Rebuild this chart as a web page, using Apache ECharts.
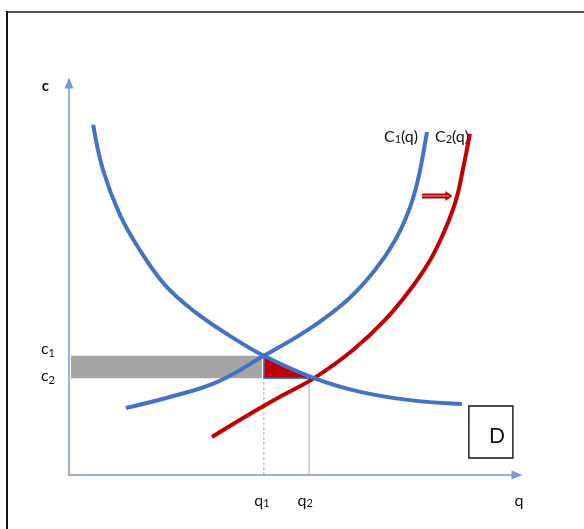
<!DOCTYPE html>
<html>
<head>
<meta charset="utf-8">
<script src="https://cdn.jsdelivr.net/npm/echarts@6/dist/echarts.min.js"></script>
<style>
  html, body { margin: 0; padding: 0; background: #fff; }
  #chart { width: 584px; height: 529px; }
</style>
</head>
<body>
<div id="chart"></div>
<script>
// Demand curve D and cost curves before (C1) and after (C2) the shift, in [q, c]
const demandCurve = [[5.4, 89.3], [7.6, 77.8], [11.4, 66.3], [15.8, 57.4], [21.4, 48.5], [28.1, 41.6],
  [35.9, 35.5], [43.5, 30.4], [54.7, 24.7], [65.0, 21.2], [76.1, 19.1], [87.7, 18.1]];
const costCurve1 = [[12.7, 17.1], [22.5, 19.9], [33.0, 23.7], [43.5, 30.4], [53.3, 37.0], [62.1, 44.6],
  [68.3, 52.3], [72.8, 59.9], [75.9, 67.6], [77.9, 75.3], [79.0, 81.6], [79.9, 87.5]];
const costCurve2 = [[31.9, 9.7], [40.0, 15.3], [47.5, 20.2], [54.7, 24.7], [63.4, 31.9], [70.5, 39.5],
  [76.1, 47.2], [80.6, 54.8], [83.9, 62.5], [86.4, 70.2], [87.9, 77.8], [89.5, 87.0]];

// Equilibrium quantities and costs
const qValues = [43.5, 53.6];          // q1, q2
const qNames = ['1', '2'];
const cValues = [30.4, 24.7];          // c1, c2
const cNames = ['1', '2'];
const qCross = 54.7;                   // D meets C2 here
const qAxisEnd = 100;

// Shift arrow from C1 toward C2
const shiftArrow = [[78.8, 71.2], [84.8, 71.2]];

const FONT = 'Lato, "Noto Sans", "DejaVu Sans", sans-serif';
const BLUE = '#4472c4';
const RED = '#c00000';
const AXIS = '#7b96d9';
const INK = '#111';

const chart = echarts.init(document.getElementById('chart'), null, { renderer: 'canvas' });

function curve(data, color, extra) {
  return Object.assign({
    type: 'line',
    data: data,
    smooth: 0.4,
    symbol: 'none',
    silent: true,
    lineStyle: { color: color, width: 4, cap: 'butt' },
    z: 5
  }, extra || {});
}

const option = {
  animation: false,
  backgroundColor: '#fff',
  textStyle: { fontFamily: FONT },
  grid: { left: 69, right: 67, top: 83, bottom: 54, containLabel: false, outerBoundsMode: 'none' },
  xAxis: {
    type: 'value', min: 0, max: qAxisEnd,
    axisLine: { show: true, symbol: ['none', 'triangle'], symbolSize: [9, 11], lineStyle: { color: AXIS, width: 1.5 } },
    axisTick: { show: false },
    splitLine: { show: false },
    axisLabel: {
      customValues: qValues.concat([qAxisEnd]),
      margin: 18,
      verticalAlign: 'top',
      showMinLabel: true,
      showMaxLabel: true,
      hideOverlap: false,
      formatter: function (v) {
        const i = qValues.indexOf(v);
        if (i < 0) return '{n|q}';
        return '{m' + i + '|q}{s' + i + '|' + qNames[i] + '}';
      },
      rich: {
        n: { fontFamily: FONT, fontSize: 16, color: INK, padding: [0, 0, 0, 4] },
        m0: { fontFamily: FONT, fontSize: 16, color: INK },
        s0: { fontFamily: FONT, fontSize: 11, color: INK, verticalAlign: 'bottom', padding: [0, 4, 0, 0] },
        m1: { fontFamily: FONT, fontSize: 16, color: INK },
        s1: { fontFamily: FONT, fontSize: 11, color: INK, verticalAlign: 'bottom', padding: [0, 8, 0, 0] }
      }
    }
  },
  yAxis: {
    type: 'value', min: 0, max: 100,
    name: 'c', nameLocation: 'end', nameGap: -3,
    nameTextStyle: { fontFamily: FONT, fontSize: 15, fontWeight: 'bold', color: INK, align: 'right', verticalAlign: 'middle', padding: [0, 20, 0, 0] },
    axisLine: { show: true, symbol: ['none', 'triangle'], symbolSize: [9, 11], lineStyle: { color: AXIS, width: 1.5 } },
    axisTick: { show: false },
    splitLine: { show: false },
    axisLabel: {
      customValues: cValues,
      margin: 14,
      formatter: function (v) {
        const i = cValues.indexOf(v);
        return '{m' + i + '|c}{s' + i + '|' + cNames[i] + '}';
      },
      rich: {
        m0: { fontFamily: FONT, fontSize: 16, color: INK, padding: [0, 0, 14, 0] },
        s0: { fontFamily: FONT, fontSize: 11, color: INK, verticalAlign: 'bottom', padding: [0, 0, 12, 0] },
        m1: { fontFamily: FONT, fontSize: 16, color: INK, padding: [0, 0, 4, 0] },
        s1: { fontFamily: FONT, fontSize: 11, color: INK, verticalAlign: 'bottom', padding: [0, 0, 2, 0] }
      }
    }
  },
  graphic: [
    { type: 'line', silent: true, shape: { x1: 6, y1: 12, x2: 584, y2: 12 }, style: { stroke: '#555', lineWidth: 2 } },
    { type: 'line', silent: true, shape: { x1: 7, y1: 11, x2: 7, y2: 529 }, style: { stroke: INK, lineWidth: 2 } }
  ],
  series: [
    // cost saving band between c2 and c1 up to q1
    {
      type: 'custom', silent: true, z: 1,
      data: [[0, cValues[1], qValues[0], cValues[0]]],
      renderItem: function (params, api) {
        const a = api.coord([api.value(0), api.value(3)]);
        const b = api.coord([api.value(2), api.value(1)]);
        return {
          type: 'rect',
          shape: { x: a[0] + 2, y: a[1], width: b[0] - a[0] - 4, height: b[1] - a[1] },
          style: { fill: '#a5a5a5' }
        };
      }
    },
    // welfare triangle between q1 and the new equilibrium
    {
      type: 'custom', silent: true, z: 2,
      data: [[qValues[0], cValues[0], qValues[0], cValues[1], qCross, cValues[1]]],
      renderItem: function (params, api) {
        const pts = [
          api.coord([api.value(0), api.value(1)]),
          api.coord([api.value(2), api.value(3)]),
          api.coord([api.value(4), api.value(5)])
        ];
        return {
          type: 'polygon',
          shape: { points: pts },
          style: { fill: RED, stroke: BLUE, lineWidth: 1.5 }
        };
      }
    },
    // drop lines to q1 and q2
    {
      type: 'line', silent: true, symbol: 'none', z: 3,
      data: [[qValues[0], 0], [qValues[0], cValues[1]]],
      lineStyle: { color: '#8eaadb', width: 1, type: [3, 2] }
    },
    {
      type: 'line', silent: true, symbol: 'none', z: 3,
      data: [[qValues[1], 0], [qValues[1], cValues[1]]],
      lineStyle: { color: '#8eaadb', width: 1 }
    },
    curve(costCurve1, BLUE, {
      markPoint: {
        silent: true, symbolSize: 0, animation: false,
        data: [{
          coord: costCurve1[costCurve1.length - 1],
          label: {
            show: true, position: 'inside', offset: [-26, 5],
            formatter: '{m|C}{s|1}{m|(q)}',
            rich: {
              m: { fontFamily: FONT, fontSize: 16, color: INK },
              s: { fontFamily: FONT, fontSize: 11, color: INK, verticalAlign: 'bottom' }
            }
          }
        }]
      }
    }),
    curve(costCurve2, RED, {
      markPoint: {
        silent: true, symbolSize: 0, animation: false,
        data: [{
          coord: costCurve2[costCurve2.length - 1],
          label: {
            show: true, position: 'inside', offset: [-18, 3],
            formatter: '{m|C}{s|2}{m|(q)}',
            rich: {
              m: { fontFamily: FONT, fontSize: 16, color: INK },
              s: { fontFamily: FONT, fontSize: 11, color: INK, verticalAlign: 'bottom' }
            }
          }
        }]
      }
    }),
    curve(demandCurve, BLUE, {
      z: 6,
      markPoint: {
        silent: true, animation: false,
        data: [{
          coord: demandCurve[demandCurve.length - 1],
          symbol: 'rect', symbolSize: [44, 52], symbolOffset: [29, 28],
          itemStyle: { color: '#fff', borderColor: INK, borderWidth: 1.5 },
          label: { show: true, position: 'inside', offset: [6, 4], formatter: 'D', fontFamily: FONT, fontSize: 21, color: INK }
        }]
      }
    }),
    // shift arrow
    {
      type: 'line', silent: true, z: 7,
      data: [
        { value: shiftArrow[0], symbol: 'none' },
        { value: shiftArrow[1], symbol: 'triangle', symbolRotate: -90, symbolSize: [10, 7] }
      ],
      showSymbol: true,
      lineStyle: { color: RED, width: 5 },
      itemStyle: { color: RED }
    },
    {
      type: 'line', silent: true, z: 8, symbol: 'none',
      data: shiftArrow,
      lineStyle: { color: '#9c9cc8', width: 1.2 }
    }
  ]
};

chart.setOption(option);
</script>
</body>
</html>
